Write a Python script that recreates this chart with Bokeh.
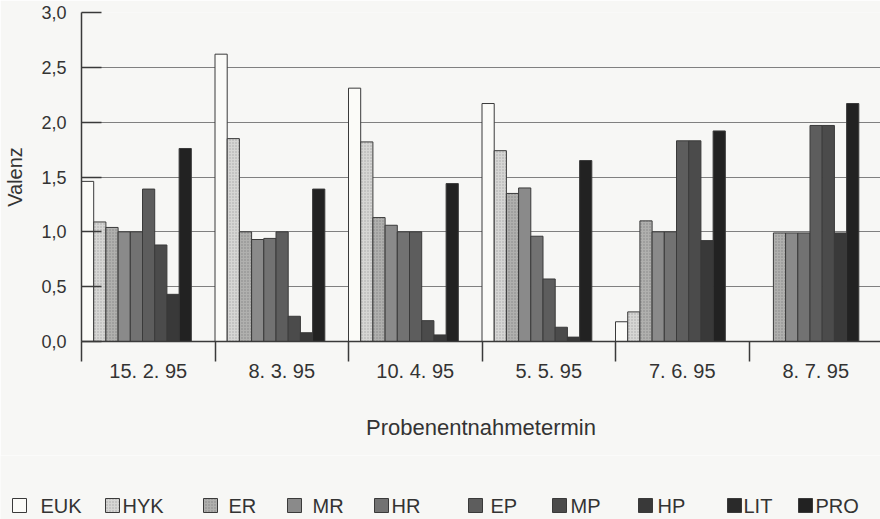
from bokeh.plotting import figure
from bokeh.models import FixedTicker, Range1d
from bokeh.embed import file_html
from bokeh.resources import INLINE
from bokeh.core.properties import value

# ---------------- data ----------------
dates = ["15. 2. 95", "8. 3. 95", "10. 4. 95", "5. 5. 95", "7. 6. 95", "8. 7. 95"]
series = ["EUK", "HYK", "ER", "MR", "HR", "EP", "MP", "HP", "LIT", "PRO"]
EUK = [1.46, 2.62, 2.31, 2.17, 0.18, 0.0]
HYK = [1.09, 1.85, 1.82, 1.74, 0.27, 0.0]
ER = [1.04, 1.00, 1.13, 1.35, 1.10, 0.99]
MR = [1.00, 0.93, 1.06, 1.40, 1.00, 0.99]
HR = [1.00, 0.94, 1.00, 0.96, 1.00, 0.99]
EP = [1.39, 1.00, 1.00, 0.57, 1.83, 1.97]
MP = [0.88, 0.23, 0.19, 0.13, 1.83, 1.97]
HP = [0.43, 0.08, 0.06, 0.04, 0.92, 0.99]
LIT = [None, None, None, None, None, None]
PRO = [1.76, 1.39, 1.44, 1.65, 1.92, 2.17]
values = [EUK, HYK, ER, MR, HR, EP, MP, HP, LIT, PRO]
y_ticks = [0, 0.5, 1.0, 1.5, 2.0, 2.5, 3.0]
y_tick_labels = ["0,0", "0,5", "1,0", "1,5", "2,0", "2,5", "3,0"]

# ---------------- styles ----------------
colors = ["#fbfbf8", "#d6d6d4", "#b0b0ae", "#8a8a8a", "#727272",
          "#5d5d5d", "#4b4b4b", "#393939", "#2a2a2a", "#222222"]
hatches = [None, "dot", "dot", None, None, None, None, None, None, None]
hatch_colors = ["#000", "#9c9c9c", "#7c7c7c", "#000", "#000",
                "#000", "#000", "#000", "#000", "#000"]
BG = "#f7f7f5"
TXT = "#333333"
FONT = "Liberation Sans"
slot_w = 0.0914          # width of one bar, in category units
n_groups = len(dates)


def hatch_kw(k):
    if hatches[k] is None:
        return {}
    return dict(hatch_pattern=hatches[k], hatch_color=hatch_colors[k],
                hatch_scale=3, hatch_weight=1, hatch_alpha=0.8)


p = figure(width=880, height=455, x_range=Range1d(0, 5.985), y_range=Range1d(0, 3),
           output_backend="svg", toolbar_location=None,
           min_border_left=81, min_border_right=0, min_border_top=12, min_border_bottom=114)
p.background_fill_color = BG
p.border_fill_color = BG
p.outline_line_color = None

slot = 0
for k, (name, vals, col) in enumerate(zip(series, values, colors)):
    pts = [(i, v) for i, v in enumerate(vals) if v is not None]
    if not pts:
        continue
    xs = [i + (slot + 0.5) * slot_w for i, v in pts]
    tops = [v for i, v in pts]
    p.vbar(x=xs, top=tops, bottom=0, width=slot_w, fill_color=col,
           line_color="#3a3a3a", line_width=1, **hatch_kw(k))
    slot += 1

# y axis
p.yaxis.ticker = FixedTicker(ticks=y_ticks)
p.yaxis.major_label_overrides = dict(zip(y_ticks, y_tick_labels))
p.yaxis.major_tick_in = 20
p.yaxis.major_tick_out = 0
p.yaxis.minor_tick_in = 0
p.yaxis.minor_tick_out = 0
p.yaxis.major_label_standoff = 15
p.yaxis.axis_label = "Valenz"
p.yaxis.axis_label_standoff = 12

# x axis
centers = [i + 0.5 for i in range(n_groups)]
p.xaxis.ticker = FixedTicker(ticks=centers, minor_ticks=list(range(n_groups + 1)))
p.xaxis.major_label_overrides = dict(zip(centers, dates))
p.xaxis.major_tick_in = 0
p.xaxis.major_tick_out = 0
p.xaxis.minor_tick_in = 0
p.xaxis.minor_tick_out = 20
p.xaxis.minor_tick_line_color = "#3a3a3a"
p.xaxis.minor_tick_line_width = 1.5
p.xaxis.major_label_standoff = -2
p.xaxis.axis_label = "Probenentnahmetermin"
p.xaxis.axis_label_standoff = 30

for ax in p.axis:
    ax.axis_line_color = "#3a3a3a"
    ax.axis_line_width = 1.5
    ax.major_tick_line_color = "#3a3a3a"
    ax.major_tick_line_width = 1.5
    ax.major_label_text_font = FONT
    ax.major_label_text_color = TXT
    ax.axis_label_text_font = FONT
    ax.axis_label_text_font_style = "normal"
    ax.axis_label_text_color = TXT
p.yaxis.major_label_text_font_size = "18px"
p.xaxis.major_label_text_font_size = "20px"
p.yaxis.axis_label_text_font_size = "20px"
p.xaxis.axis_label_text_font_size = "22px"

p.xgrid.visible = False
p.ygrid.grid_line_color = "#808080"
p.ygrid.grid_line_width = 1

# ---------------- legend (separate strip) ----------------
legend_box_px = [12, 105, 203, 287, 374, 468, 552, 638, 727, 798]
legend_text_px = [40, 122, 228, 312, 391, 490, 570, 657, 743, 815]
box = 14
leg_y = 14
lp = figure(width=880, height=64, x_range=Range1d(0, 880), y_range=Range1d(0, 64),
            output_backend="svg", toolbar_location=None, min_border=0,
            min_border_left=0, min_border_right=0, min_border_top=0, min_border_bottom=0)
lp.axis.visible = False
lp.grid.visible = False
lp.outline_line_color = None
lp.background_fill_color = BG
lp.border_fill_color = BG
for k, name in enumerate(series):
    lp.rect(x=[legend_box_px[k] + box / 2], y=[leg_y], width=box, height=box,
            fill_color=colors[k], line_color="#3a3a3a", line_width=1, **hatch_kw(k))
lp.text(x=legend_text_px, y=[leg_y] * len(series), text=series,
        text_font=value(FONT), text_font_size="20px", text_baseline="middle",
        text_align="left", text_color=TXT)

open("out.html", "w").write(file_html([p, lp], INLINE))
